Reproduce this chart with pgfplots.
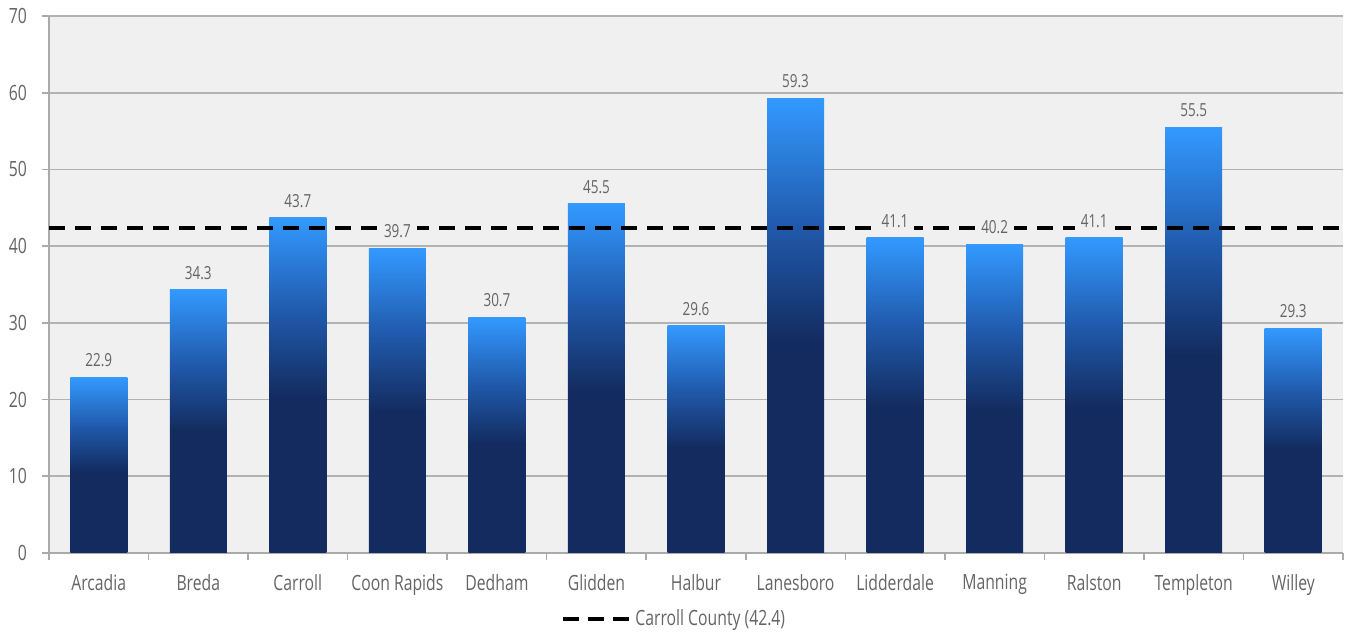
\documentclass[border=0pt]{standalone}
\usepackage{pgfplots}
\pgfplotsset{compat=1.18}
\usepackage{fontspec}
\setmainfont{Open Sans}[FakeStretch=0.75]
\definecolor{navy}{RGB}{19,43,94}
\definecolor{midblue}{RGB}{32,90,172}
\definecolor{topblue}{RGB}{51,153,255}
\definecolor{textgray}{RGB}{100,100,100}
\definecolor{axisgray}{RGB}{170,170,170}
\definecolor{gridgray}{RGB}{178,178,178}
\definecolor{bggray}{RGB}{240,240,240}
\pgfdeclareverticalshading{barshade}{100bp}{color(0bp)=(navy); color(48bp)=(navy); color(61bp)=(midblue); color(75bp)=(topblue); color(100bp)=(topblue)}
\pgfplotsset{onebar/.style={ybar, bar width=28.5pt, bar shift=0pt, draw=none, shade, shading=barshade, forget plot}}
\begin{document}
\begin{tikzpicture}
\begin{axis}[
  scale only axis, width=647pt, height=268.5pt,
  xmin=-0.5, xmax=12.5, ymin=0, ymax=70,
  ytick={0,10,...,70},
  xtick={0,...,12},
  xticklabels={Arcadia,Breda,Carroll,Coon Rapids,Dedham,Glidden,Halbur,Lanesboro,Lidderdale,Manning,Ralston,Templeton,Willey},
  minor xtick={-0.5,0.5,...,12.5},
  major x tick style={draw=none},
  minor x tick style={draw=axisgray, line width=0.8pt},
  ytick style={draw=axisgray, line width=0.8pt},
  tick align=outside,
  major tick length=3.5pt, minor tick length=3.5pt,
  axis x line*=bottom, axis y line*=left,
  axis line style={draw=axisgray, line width=0.8pt, -},
  ymajorgrids, grid style={draw=gridgray, line width=0.8pt},
  axis background/.style={fill=bggray},
  /pgf/number format/assume math mode=true,
  tick label style={font=\fontsize{10.5}{12}\selectfont, text=textgray},
  xticklabel style={yshift=-3.5pt},
  yticklabel style={xshift=-4pt},
  legend style={draw=none, fill=none, at={(0.484,-0.123)}, anchor=center,
    font=\fontsize{10.5}{12}\selectfont, text=textgray, inner sep=0pt,
    /tikz/every even column/.append style={column sep=0pt}},
  legend cell align=left,
  clip=false,
]
\addplot[onebar] coordinates {(0,22.9)};
\addplot[onebar] coordinates {(1,34.3)};
\addplot[onebar] coordinates {(2,43.7)};
\addplot[onebar] coordinates {(3,39.7)};
\addplot[onebar] coordinates {(4,30.7)};
\addplot[onebar] coordinates {(5,45.5)};
\addplot[onebar] coordinates {(6,29.6)};
\addplot[onebar] coordinates {(7,59.3)};
\addplot[onebar] coordinates {(8,41.1)};
\addplot[onebar] coordinates {(9,40.2)};
\addplot[onebar] coordinates {(10,41.1)};
\addplot[onebar] coordinates {(11,55.5)};
\addplot[onebar] coordinates {(12,29.3)};
\addplot[black, line width=2pt, dash pattern=on 8pt off 5pt,
  legend image code/.code={\draw[black, line width=2pt, dash pattern=on 8pt off 4.5pt] (0pt,0pt) -- (33pt,0pt);}]
  coordinates {(-0.5,42.4) (12.5,42.4)};
\addlegendentry{Carroll County (42.4)}
\addplot[draw=none, only marks, mark=none, forget plot,
  nodes near coords={\pgfmathprintnumber[fixed,precision=1,fixed zerofill,assume math mode=true]{\pgfplotspointmeta}},
  every node near coord/.append style={font=\fontsize{9}{10}\selectfont, text=textgray, fill=bggray, inner xsep=3pt, inner ysep=1.7pt, yshift=3.3pt}]
  coordinates {(0,22.9) (1,34.3) (2,43.7) (3,39.7) (4,30.7) (5,45.5) (6,29.6) (7,59.3) (8,41.1) (9,40.2) (10,41.1) (11,55.5) (12,29.3)};
\coordinate (bl) at (rel axis cs:0,0);
\coordinate (tr) at (rel axis cs:1,1);
\end{axis}
\pgfresetboundingbox
\path[use as bounding box] ([shift={(-24.5pt,-39.5pt)}]bl) rectangle ([shift={(2.5pt,8pt)}]tr);
\end{tikzpicture}
\end{document}
